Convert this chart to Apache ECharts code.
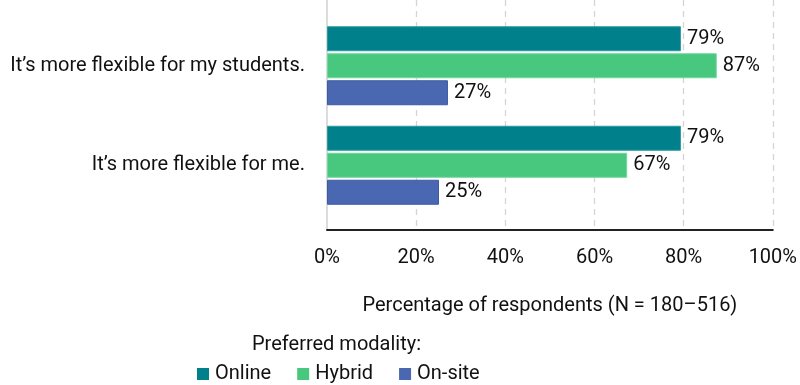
<!DOCTYPE html>
<html><head><meta charset="utf-8">
<script src="https://cdn.jsdelivr.net/npm/echarts@6/dist/echarts.min.js"></script>
<style>html,body{margin:0;padding:0;background:#fff}#c{width:800px;height:385px}</style>
</head><body><div id="c"></div>
<script>
const categories = ["It\u2019s more flexible for my students.", "It\u2019s more flexible for me."];
const seriesNames = ["Online", "Hybrid", "On-site"];
const onlineValues = [79, 79];
const hybridValues = [87, 67];
const onsiteValues = [27, 25];
const xTicks = [0, 20, 40, 60, 80, 100];
const axisTitle = "Percentage of respondents (N = 180\u2013516)";
const legendTitle = "Preferred modality:";

const colors = ["#00808A", "#48C87E", "#4A67B2"];
const borders = ["#2a9aa2", "#6fd79a", "#3f5aa3"];
const FONT = "Roboto";
const FS = 20;
const chart = echarts.init(document.getElementById('c'), null, {renderer: 'canvas'});
const values = [onlineValues, hybridValues, onsiteValues];

chart.setOption({
  animation: false,
  textStyle: {fontFamily: FONT},
  grid: [
    {left: 327, right: 25, top: 0, height: 230},
    {left: 327, right: 25, top: 16, height: 199}
  ],
  xAxis: [
    {gridIndex: 0, type: 'value', min: xTicks[0], max: xTicks[xTicks.length-1], interval: 20,
     axisLine: {show: true, lineStyle: {color: '#222', width: 2}},
     axisTick: {show: false},
     axisLabel: {formatter: '{value}%', fontSize: FS, color: '#111', margin: 18, fontFamily: FONT},
     splitLine: {show: true, showMinLine: false, lineStyle: {type: [6, 5], color: '#d4d4d4', width: 1.3}},
     name: axisTitle, nameLocation: 'middle', nameGap: 66,
     nameTextStyle: {fontSize: FS, color: '#111', fontFamily: FONT}},
    {gridIndex: 1, type: 'value', min: 0, max: 100, show: false}
  ],
  yAxis: [
    {gridIndex: 0, type: 'value', min: 0, max: 1, axisLabel: {show: false}, axisTick: {show: false},
     splitLine: {show: false}, axisLine: {show: true, lineStyle: {color: '#d0d0d0', width: 1.5}}},
    {gridIndex: 1, type: 'category', data: categories, inverse: true,
     axisLine: {show: false}, axisTick: {show: false},
     axisLabel: {fontSize: FS, color: '#111', margin: 22, fontFamily: FONT}}
  ],
  legend: {
    data: seriesNames, top: 359, left: 192, itemWidth: 12, itemHeight: 12, itemGap: 26,
    icon: 'rect', itemStyle: {borderWidth: 0},
    textStyle: {fontSize: FS, color: '#111', fontFamily: FONT, padding: [0, 0, 0, 1]}
  },
  graphic: [{type: 'text', left: 252, top: 335,
    style: {text: legendTitle, fontSize: FS, fill: '#111', fontFamily: FONT}}],
  series: seriesNames.map((n, i) => ({
    name: n, type: 'bar', xAxisIndex: 1, yAxisIndex: 1, data: values[i],
    barWidth: 25, barGap: '8%',
    itemStyle: {color: colors[i], borderColor: borders[i], borderWidth: 1},
    label: {show: true, position: 'right', distance: 6, formatter: '{c}%', fontSize: FS, color: '#111', fontFamily: FONT}
  }))
});
</script></body></html>
